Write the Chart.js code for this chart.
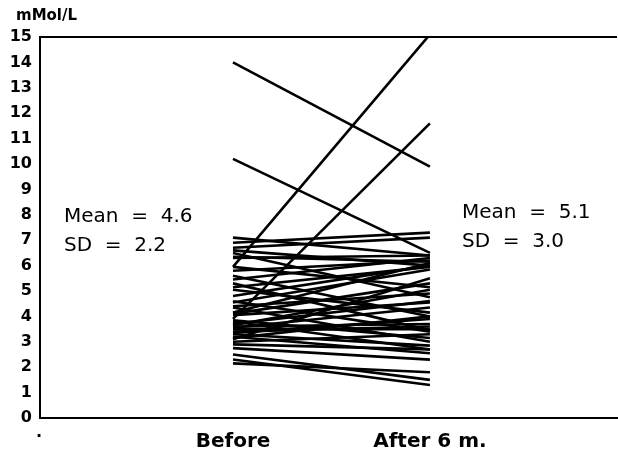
<!DOCTYPE html>
<html>
<head>
<meta charset="utf-8">
<script src="https://cdn.jsdelivr.net/npm/chart.js@4.4.1/dist/chart.umd.min.js"></script>
<style>
  body { margin: 0; background: #fff; }
  canvas { display: block; }
</style>
</head>
<body>
<canvas id="chart" width="618" height="452"></canvas>
<script>
// categories on the x axis
const categories = ["Before", "After 6 m."];
// one value per subject, same order in both arrays
const before = [14.0, 10.2, 5.95, 3.9, 7.1, 6.9, 6.7, 6.5, 6.35, 5.95, 5.45, 5.3, 5.15, 5.05, 4.55, 4.35, 4.15, 4.05, 3.85,
  3.65, 3.55, 3.4, 3.3, 3.15, 3.0, 2.75, 2.5, 2.3, 2.15, 3.2, 3.6, 4.1, 3.35, 4.4, 5.6, 6.3, 3.8,
  4.8, 3.5, 6.6, 3.1, 4.6, 5.8, 2.9, 3.7];
const after = [9.9, 6.5, 15.1, 11.6, 6.4, 7.3, 7.1, 4.75, 6.15, 5.15, 6.3, 3.45, 5.95, 4.15, 5.85, 3.0, 6.1, 4.55, 3.15,
  5.05, 4.35, 3.6, 2.85, 4.0, 3.3, 2.3, 1.5, 1.3, 1.8, 2.55, 3.7, 5.3, 3.9, 4.9, 4.0, 6.4, 2.7,
  6.0, 3.5, 6.0, 5.5, 3.4, 6.2, 2.7, 4.6];
const yTicks = [0, 1, 2, 3, 4, 5, 6, 7, 8, 9, 10, 11, 12, 13, 14, 15];
const stats = [
  { mean: "4.6", sd: "2.2" },
  { mean: "5.1", sd: "3.0" }
];
const unit = "mMol/L";

const datasets = before.map((b, i) => ({
  data: [{ x: 1, y: b }, { x: 2, y: after[i] }],
  borderColor: "#000",
  borderWidth: 2.6,
  pointRadius: 0,
  fill: false
}));

// top frame line + text labels
const extras = {
  id: "extras",
  afterDraw(chart) {
    const ctx = chart.ctx;
    const a = chart.chartArea;
    ctx.save();
    ctx.strokeStyle = "#000";
    ctx.lineWidth = 2;
    ctx.beginPath();
    ctx.moveTo(a.left, a.top);
    ctx.lineTo(a.right, a.top);
    ctx.stroke();

    ctx.fillStyle = "#000";
    ctx.textBaseline = "alphabetic";
    ctx.font = "bold 15px 'DejaVu Sans'";
    ctx.fillText(unit, 16, 20);

    ctx.font = "20px 'DejaVu Sans'";
    ctx.fillText("Mean  =  " + stats[0].mean, 64, 222);
    ctx.fillText("SD  =  " + stats[0].sd, 64, 251);
    ctx.fillText("Mean  =  " + stats[1].mean, 462, 218);
    ctx.fillText("SD  =  " + stats[1].sd, 462, 247);

    ctx.font = "bold 16px 'DejaVu Sans'";
    ctx.fillText(".", 36, 437);
    ctx.restore();
  }
};

new Chart(document.getElementById("chart"), {
  type: "line",
  data: { datasets: datasets },
  options: {
    responsive: false,
    animation: false,
    layout: { padding: { top: 37, right: 1, left: 0, bottom: 0 } },
    plugins: { legend: { display: false }, tooltip: { enabled: false } },
    scales: {
      x: {
        type: "linear",
        min: 0.02,
        max: 2.95,
        afterBuildTicks: (s) => { s.ticks = [{ value: 1 }, { value: 2 }]; },
        afterFit: (s) => { s.height = 34; },
        grid: { display: false, drawTicks: false },
        border: { display: true, color: "#000", width: 2 },
        ticks: {
          color: "#000",
          padding: 12,
          maxRotation: 0,
          font: { family: "'DejaVu Sans'", size: 20, weight: "bold" },
          callback: (v, i) => categories[i]
        }
      },
      y: {
        min: 0,
        max: 15,
        afterBuildTicks: (s) => { s.ticks = yTicks.map(v => ({ value: v })); },
        afterFit: (s) => { s.width = 40; },
        grid: { display: false, drawTicks: false },
        border: { display: true, color: "#000", width: 2 },
        ticks: {
          color: "#000",
          padding: 8,
          font: { family: "'DejaVu Sans'", size: 16, weight: "bold" }
        }
      }
    }
  },
  plugins: [extras]
});
</script>
</body>
</html>
